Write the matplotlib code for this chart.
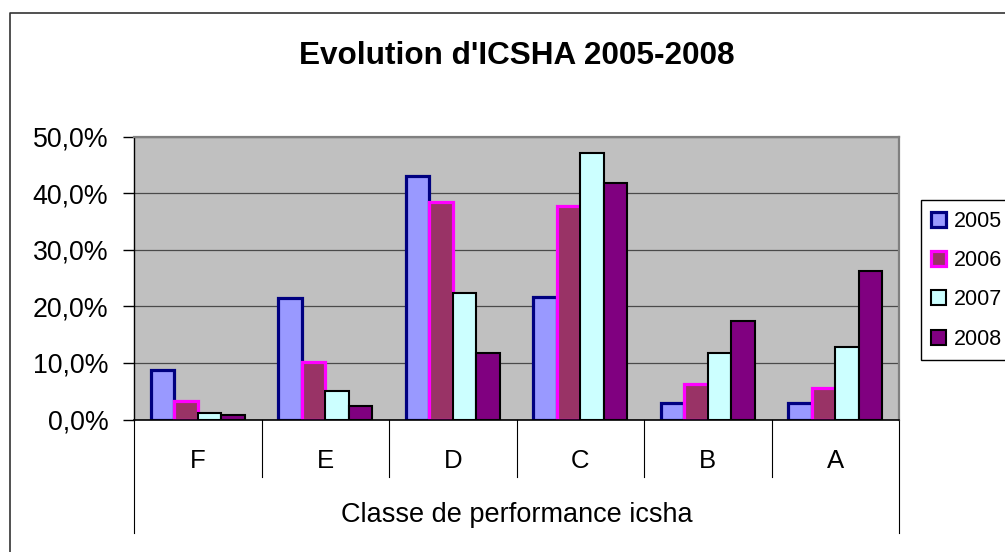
import matplotlib
matplotlib.use('Agg')
import matplotlib.pyplot as plt
from matplotlib.transforms import blended_transform_factory
from matplotlib.lines import Line2D
import numpy as np

# ---- data ----
categories = ['F', 'E', 'D', 'C', 'B', 'A']
years = ['2005', '2006', '2007', '2008']
v2005 = [8.7, 21.4, 43.1, 21.7, 3.0, 3.0]
v2006 = [3.3, 10.1, 38.4, 37.7, 6.3, 5.5]
v2007 = [1.1, 5.1, 22.3, 47.2, 11.7, 12.8]
v2008 = [0.8, 2.3, 11.7, 41.9, 17.4, 26.3]
yticks = [0, 10, 20, 30, 40, 50]
ytick_labels = ['0,0%', '10,0%', '20,0%', '30,0%', '40,0%', '50,0%']
title = "Evolution d'ICSHA 2005-2008"
xlabel = 'Classe de performance icsha'

plt.rcParams['font.family'] = ['Liberation Sans', 'DejaVu Sans']

W, H = 1005, 552
fig = plt.figure(figsize=(W / 100, H / 100), dpi=100)
fig.patch.set_facecolor('white')

# plot area in pixels
L, R, T, B = 134, 899, 136.7, 419.5
ax = fig.add_axes([L / W, 1 - B / H, (R - L) / W, (B - T) / H])
ax.set_facecolor('#C0C0C0')

series = [v2005, v2006, v2007, v2008]
styles = [('#9999FF', '#000080', 2.3),
          ('#993366', '#FF00FF', 2.3),
          ('#CCFFFF', '#000000', 1.5),
          ('#800080', '#000000', 1.5)]
x = np.arange(len(categories))
w = 0.185
handles = []
for i, (vals, (fc, ec, lw)) in enumerate(zip(series, styles)):
    bc = ax.bar(x + (i - 1.5) * w, vals, width=w, color=fc, edgecolor=ec,
                linewidth=lw, zorder=3 + i, label=years[i])
    for p in bc:
        p.set_joinstyle('miter')
    handles.append(bc)

ax.set_xlim(-0.5, len(categories) - 0.5)
ax.set_ylim(0, 50)
ax.set_yticks(yticks)
ax.set_yticklabels(ytick_labels, fontsize=19.3)
ax.tick_params(axis='y', direction='out', length=8, width=1, color='black', pad=10.5)
ax.set_xticks([])
ax.yaxis.grid(True, color='#4a4a4a', linewidth=0.9, zorder=1)
ax.set_axisbelow(True)
for s in ['top', 'right']:
    ax.spines[s].set_color('#808080')
    ax.spines[s].set_linewidth(1.6)
ax.spines['left'].set_color('black')
ax.spines['left'].set_linewidth(1)
ax.spines['bottom'].set_color('black')
ax.spines['bottom'].set_linewidth(1.2)
ax.spines['bottom'].set_zorder(10)

# multi-level category axis
tr = blended_transform_factory(ax.transData, fig.transFigure)
def fy(py):
    return 1 - py / H
for k in range(1, len(categories)):
    ax.add_line(Line2D([k - 0.5, k - 0.5], [fy(B), fy(477)], transform=tr,
                       color='black', linewidth=0.8, clip_on=False))
for xe in [-0.5, len(categories) - 0.5]:
    ax.add_line(Line2D([xe, xe], [fy(B), fy(533)], transform=tr,
                       color='black', linewidth=0.8, clip_on=False))
for k, c in enumerate(categories):
    ax.text(k, fy(468), c, transform=tr, ha='center', va='baseline',
            fontsize=18.5, clip_on=False)
ax.text((len(categories) - 1) / 2, fy(522), xlabel, transform=tr, ha='center',
        va='baseline', fontsize=19.5, clip_on=False)

# title
fig.text(516.5 / W, fy(64), title, ha='center', va='baseline', fontsize=22.7,
         fontweight='bold')

# chart border
fig.add_artist(Line2D([9.5 / W, 9.5 / W, 1.0], [0, fy(13), fy(13)],
                      transform=fig.transFigure, color='#333333', linewidth=1.2))

# legend
leg = fig.legend(handles=handles, labels=years, loc='upper left',
                 bbox_to_anchor=(920.5 / W, fy(200)), frameon=True, fancybox=False,
                 edgecolor='black', framealpha=1, fontsize=15.5, handlelength=0.7,
                 handleheight=0.7, handletextpad=0.35, labelspacing=0.85,
                 borderpad=0.5, borderaxespad=0)
leg.get_frame().set_linewidth(1)

fig.savefig('out.png', dpi=100)
